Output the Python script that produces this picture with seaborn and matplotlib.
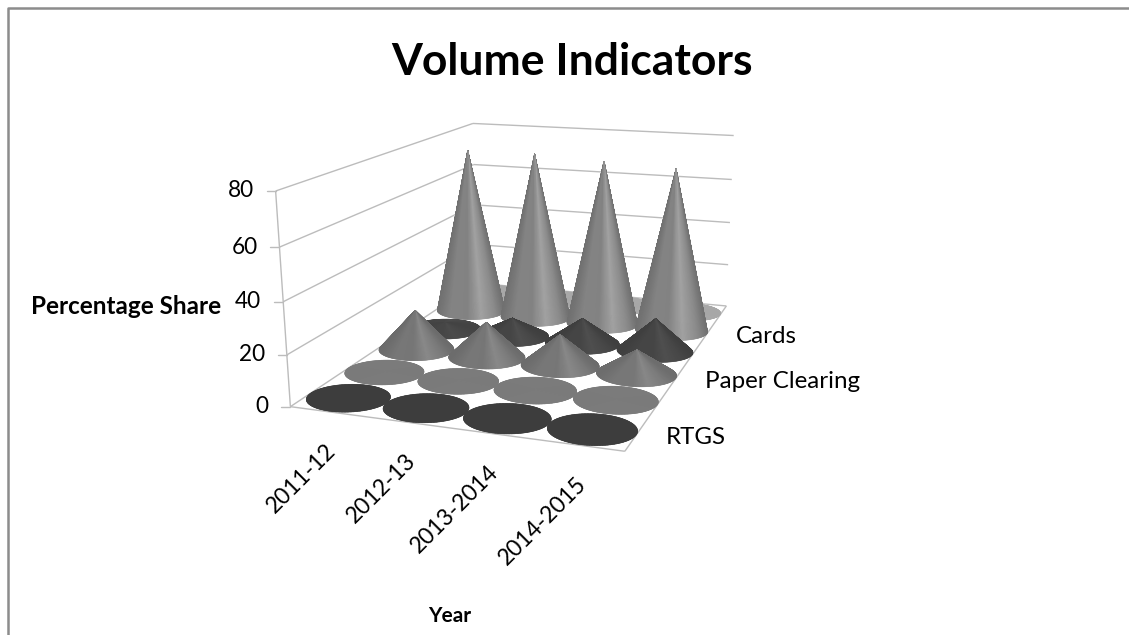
import numpy as np
import pandas as pd
import seaborn as sns
import matplotlib
matplotlib.use("Agg")
import matplotlib.pyplot as plt
from matplotlib.collections import PolyCollection

# ---------- data ----------
years = ["2011-12", "2012-13", "2013-2014", "2014-2015"]
depth_labels = ["RTGS", "", "Paper Clearing", "", "Cards", ""]
rtgs = [0.1, 0.1, 0.1, 0.1]
series_2 = [0.3, 0.3, 0.3, 0.3]
paper_clearing = [17, 15, 13, 10]
series_4 = [3, 8, 11, 14]
cards = [74.5, 74.5, 73, 71.5]
series_6 = [0.2, 0.2, 0.2, 0.2]
z_ticks = [0, 20, 40, 60, 80]
series_grey = ["#3d3d3d", "#7b7b7b", "#7c7c7c", "#484848", "#8c8c8c", "#a8a8a8"]

table = pd.DataFrame(
    [rtgs, series_2, paper_clearing, series_4, cards, series_6], columns=years
)

sns.set_theme(style="white")
plt.rcParams["font.family"] = ["Lato", "DejaVu Sans"]

W, H = 1129, 635
fig = plt.figure(figsize=(W / 100, H / 100), dpi=100)
ax = fig.add_axes([0, 0, 1, 1])
ax.set_xlim(0, W)
ax.set_ylim(H, 0)
ax.axis("off")

# ---------- perspective scale: chart box (x, y, z in 0..1) -> figure pixels ----------
anchors_world = np.array([
    [0, 0, 0], [1, 0, 0], [1, 1, 0], [0, 1, 0],
    [0, 0, 1], [0, 1, 1], [1, 1, 1],
], float)
anchors_px = np.array([
    [288, 406], [625, 452], [725, 305], [479, 284],
    [278, 191], [470, 123], [735, 136],
], float)
rows = []
for (a, b, c), (u, v) in zip(anchors_world, anchors_px):
    rows.append([a, b, c, 1, 0, 0, 0, 0, -u * a, -u * b, -u * c])
    rows.append([0, 0, 0, 0, a, b, c, 1, -v * a, -v * b, -v * c])
sol = np.linalg.lstsq(np.array(rows), anchors_px.ravel(), rcond=None)[0]
P = np.append(sol, 1.0).reshape(3, 4)
Z_MAX = z_ticks[-1]


def project(x, y, value=0.0):
    x, y, value = np.broadcast_arrays(x, y, value)
    pts = np.stack([x, y, value / Z_MAX, np.ones_like(x, dtype=float)], -1)
    q = pts @ P.T
    return q[..., 0] / q[..., 2], q[..., 1] / q[..., 2]


GRID = "#bcbcbc"


def seg(p, q, **kw):
    xs, ys = project(np.array([p[0], q[0]], float), np.array([p[1], q[1]], float),
                     np.array([p[2], q[2]], float))
    ax.plot(xs, ys, color=GRID, lw=1.0, solid_capstyle="butt", zorder=1, **kw)


for z in z_ticks:
    seg((0, 0, z), (0, 1, z))
    seg((0, 1, z), (1, 1, z))
seg((0, 0, 0), (0, 0, Z_MAX))
seg((0, 0, 0), (1, 0, 0))
seg((1, 0, 0), (1, 1, 0))

# value ticks and labels
for z in z_ticks:
    px, py = project(0.0, 0.0, float(z))
    ax.plot([px - 9, px], [py, py], color=GRID, lw=1.0, zorder=1)
    ax.text(px - 22, py, str(z), ha="right", va="center", fontsize=16.3, color="black")

# ---------- cones ----------
n_cols, n_rows = table.shape[1], table.shape[0]
RX, RY = 0.125, 0.08
theta = np.linspace(0, 2 * np.pi, 181)
profile_t = [-1, -0.6, -0.1, 0.3, 0.7, 1]
profile_f = [0.80, 0.94, 0.93, 1.16, 1.0, 0.80]

order = 10
for j in range(n_rows - 1, -1, -1):
    base = np.array(matplotlib.colors.to_rgb(series_grey[j]))
    for i in range(n_cols):
        v = float(table.iloc[j, i])
        cx, cy = (i + 0.5) / n_cols, (j + 0.5) / n_rows
        bx, by = project(cx + RX * np.cos(theta), cy + RY * np.sin(theta))
        ax.fill(bx, by, color=base, lw=0, zorder=order)
        order += 1
        ax_, ay_ = project(cx, cy, v)
        left, right = bx.min(), bx.max()
        mid, half = (left + right) / 2, (right - left) / 2
        polys, cols = [], []
        strength = min(1.0, v / 5) * (0.55 + 0.45 * min(1.0, v / 60))
        for k in np.argsort((by[:-1] + by[1:]) / 2):
            polys.append([(ax_, ay_), (bx[k], by[k]), (bx[k + 1], by[k + 1])])
            t = ((bx[k] + bx[k + 1]) / 2 - mid) / half
            f = 1 + (np.interp(t, profile_t, profile_f) - 1) * strength
            cols.append(np.clip(base * f, 0, 1))
        pc = PolyCollection(polys, facecolors=cols, edgecolors=cols, linewidths=0.4,
                            zorder=order)
        ax.add_collection(pc)
        order += 1

# ---------- category labels ----------
for i, name in enumerate(years):
    px, py = project((i + 0.5) / n_cols, 0.0)
    ax.text(px - 4, py + 28, name, rotation=45, ha="right", va="top",
            rotation_mode="anchor", fontsize=16.5, color="black", zorder=500)
for j, name in enumerate(depth_labels):
    if name:
        px, py = project(1.0, (j + 0.5) / n_rows)
        ax.text(px + 29, py + 3, name, ha="left", va="center", fontsize=17.4,
                color="black", zorder=500)

# ---------- titles ----------
ax.text(572, 62, "Volume Indicators", ha="center", va="center", fontsize=32,
        fontweight="bold", color="black")
ax.text(126.5, 307, "Percentage Share", ha="center", va="center", fontsize=17.5,
        fontweight="bold", color="black")
ax.text(450, 616, "Year", ha="center", va="center", fontsize=15,
        fontweight="bold", color="black")

# ---------- chart frame ----------
ax.plot([8, 8, W], [H, 8, 8], color="#8c8c8c", lw=1.8, zorder=600)

fig.savefig("out.png", dpi=100)
